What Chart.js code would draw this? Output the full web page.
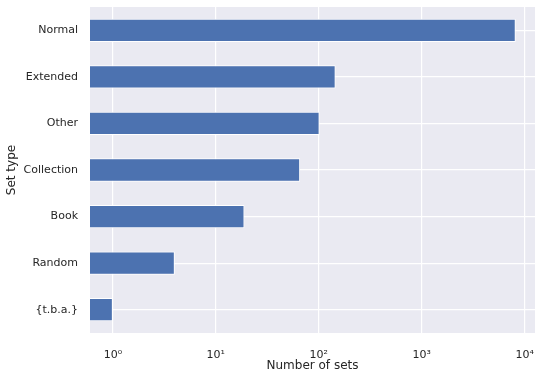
<!DOCTYPE html>
<html>
<head>
<meta charset="utf-8">
<script src="https://cdn.jsdelivr.net/npm/chart.js@4"></script>
<style>
html,body{margin:0;padding:0;background:#fff;}
#wrap{width:542px;height:380px;position:relative;}
</style>
</head>
<body>
<div id="wrap"><canvas id="c" width="542" height="380"></canvas></div>
<script>
const categories = ['Normal', 'Extended', 'Other', 'Collection', 'Book', 'Random', '{t.b.a.}'];
const setCounts = [8200, 146, 102, 66, 19, 4, 1];
const xTickValues = [1, 10, 100, 1000, 10000];
const xTickLabels = ['10⁰', '10¹', '10²', '10³', '10⁴'];

const bgPlugin = {
  id: 'bg',
  beforeDraw(chart) {
    const {ctx, chartArea: a} = chart;
    ctx.save();
    ctx.fillStyle = '#EAEAF2';
    ctx.fillRect(a.left, a.top, a.right - a.left, a.bottom - a.top);
    ctx.restore();
  }
};

function zeroPad(scale) {
  scale.paddingLeft = 0; scale.paddingRight = 0;
  scale.paddingTop = 0; scale.paddingBottom = 0;
}

new Chart(document.getElementById('c'), {
  type: 'bar',
  data: {
    labels: categories,
    datasets: [{
      data: setCounts,
      backgroundColor: '#4C72B0',
      borderColor: '#ffffff',
      borderWidth: 1,
      barPercentage: 0.5,
      categoryPercentage: 1.0
    }]
  },
  options: {
    indexAxis: 'y',
    responsive: false,
    animation: false,
    layout: {padding: {left: 0, right: 7, top: 7, bottom: 0}},
    plugins: {legend: {display: false}, tooltip: {enabled: false}},
    scales: {
      x: {
        type: 'logarithmic',
        min: 0.646,
        max: 12620,
        afterBuildTicks(scale) {
          scale.ticks = xTickValues.map(v => ({value: v}));
        },
        afterFit(scale) { scale.height = 47; zeroPad(scale); },
        ticks: {
          autoSkip: false,
          maxRotation: 0,
          padding: 16,
          color: '#262626',
          font: {family: 'DejaVu Sans', size: 11},
          callback(value) {
            const i = xTickValues.indexOf(value);
            return i >= 0 ? xTickLabels[i] : '';
          }
        },
        grid: {color: '#ffffff', lineWidth: 1.2, drawTicks: false},
        border: {display: false},
        title: {
          display: true,
          text: 'Number of sets',
          color: '#262626',
          font: {family: 'DejaVu Sans', size: 12},
          padding: {top: 0, bottom: 7}
        }
      },
      y: {
        type: 'category',
        offset: true,
        afterFit(scale) { scale.width = 90; zeroPad(scale); },
        ticks: {
          padding: 12,
          color: '#262626',
          font: {family: 'DejaVu Sans', size: 11}
        },
        grid: {color: '#ffffff', lineWidth: 1.2, drawTicks: false, offset: false},
        border: {display: false},
        title: {
          display: true,
          text: 'Set type',
          color: '#262626',
          font: {family: 'DejaVu Sans', size: 12},
          padding: {top: 5, bottom: 0}
        }
      }
    }
  },
  plugins: [bgPlugin]
});
</script>
</body>
</html>
